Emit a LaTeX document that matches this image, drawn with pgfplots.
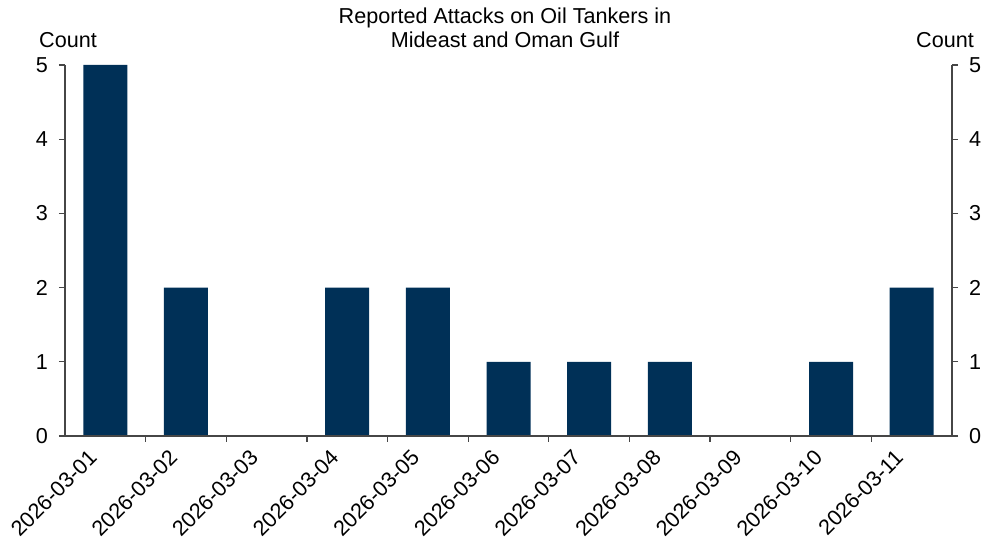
\documentclass[border=0pt]{standalone}
\usepackage{pgfplots}
\pgfplotsset{compat=1.18}
\usepackage{fontspec}
\setmainfont{Liberation Sans}
\definecolor{navy}{RGB}{0,48,87}
\definecolor{axgray}{RGB}{70,70,70}
\newcommand{\fs}{\fontsize{10.8}{12}\selectfont}
\begin{document}
\begin{tikzpicture}
\pgfplotsset{
 common/.style={scale only axis, width=443.5pt, height=185.5pt,
   xmin=-0.5, xmax=10.5, ymin=0, ymax=5, ytick={0,...,5},
   tick align=outside, major tick length=3pt,
   /pgf/number format/assume math mode=true,
   tick label style={font=\fs, text=black},
   axis line style={axgray, line width=0.6pt},
   tick style={axgray, line width=0.6pt},
   axis on top}
}
\begin{axis}[common, name=ax, axis x line*=bottom, axis y line*=left,
  xtick={0,...,10},
  xticklabels={2026-03-01,2026-03-02,2026-03-03,2026-03-04,2026-03-05,2026-03-06,2026-03-07,2026-03-08,2026-03-09,2026-03-10,2026-03-11},
  major x tick style={draw=none},
  minor xtick={0.5,1.5,...,9.5}, minor tick length=3pt,
  x tick label style={rotate=45, anchor=north east, xshift=-5.2pt, yshift=7.5pt},
  y tick label style={xshift=-2pt},
  ybar, bar width=22pt, bar shift=0pt]
% counts; 2026-03-03 and 2026-03-09 are 0 (no bar)
\addplot[fill=navy, draw=none] coordinates {(0,5) (1,2) (3,2) (4,2) (5,1) (6,1) (7,1) (9,1) (10,2)};
\end{axis}
\begin{axis}[common, axis x line=none, axis y line*=right,
  y tick label style={xshift=2pt}]
\end{axis}
\node[anchor=base, font=\fs, xshift=1.5pt, yshift=8.5pt] at (ax.north west) {Count};
\node[anchor=base, font=\fs, xshift=-3.5pt, yshift=8.5pt] at (ax.north east) {Count};
\node[anchor=base, font=\fs, xshift=-1.75pt, yshift=20.5pt] at (ax.north) {Reported Attacks on Oil Tankers in};
\node[anchor=base, font=\fs, xshift=-1.75pt, yshift=8.5pt] at (ax.north) {Mideast and Oman Gulf};
\pgfresetboundingbox
\path[use as bounding box] ([shift={(-32.5pt,-52pt)}]ax.south west) rectangle ([shift={(20pt,32.5pt)}]ax.north east);
\end{tikzpicture}
\end{document}
